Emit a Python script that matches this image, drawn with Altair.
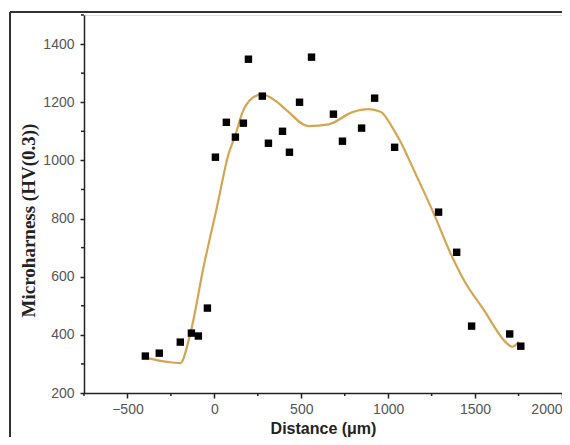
import altair as alt
import pandas as pd

# measured points
pt_x = [-397, -317, -196, -132, -92, -40, 6, 69, 121, 167, 196, 276, 311, 392, 432,
        490, 559, 685, 737, 847, 922, 1037, 1290, 1394, 1480, 1699, 1763]
pt_y = [327, 337, 375, 406, 396, 492, 1011, 1131, 1080, 1128, 1348, 1221, 1059, 1100, 1028,
        1200, 1355, 1159, 1066, 1111, 1214, 1045, 822, 684, 430, 403, 361]

# fitted curve
cv_x = [-386, -271, -196, -138, -62, 15, 82, 121, 159, 216, 274, 360, 420, 541, 657, 795, 887,
        956, 1033, 1071, 1148, 1263, 1359, 1436, 1551, 1685, 1714, 1752]
cv_y = [320, 307, 303, 405, 634, 840, 1023, 1087, 1161, 1213, 1227, 1201, 1170, 1118, 1124, 1166, 1176,
        1167, 1104, 1064, 966, 816, 680, 588, 485, 370, 359, 376]

x_major = [-500, 0, 500, 1000, 1500, 2000]
x_minor = [-750, -250, 250, 750, 1250, 1750]
y_major = [200, 400, 600, 800, 1000, 1200, 1400]
y_minor = [300, 500, 700, 900, 1100, 1300, 1500]

W, H = 478, 378

pts = pd.DataFrame({"x": pt_x, "y": pt_y})
curve = pd.DataFrame({"x": cv_x, "y": cv_y, "o": range(len(cv_x))})

xscale = alt.Scale(domain=[-750, 2000], nice=False, zero=False)
yscale = alt.Scale(domain=[200, 1500], nice=False, zero=False)

xaxis = alt.Axis(values=x_major, format="d", title="Distance (μm)", grid=False, tickSize=5,
                 tickColor="#222", domainColor="#222", domainWidth=1.5, tickWidth=1.5,
                 labelFont="Liberation Sans", labelFontSize=14, labelColor="#555",
                 labelPadding=4, titleFont="Liberation Sans", titleFontSize=16,
                 titleFontWeight="bold", titleColor="#222", titleY=35, titleBaseline="middle")
yaxis = alt.Axis(values=y_major, format="d", title="Microharness (HV(0.3))", grid=False, tickSize=4,
                 tickColor="#222", domainColor="#222", domainWidth=1.5, tickWidth=1.5,
                 labelFont="Liberation Sans", labelFontSize=14, labelColor="#555",
                 labelPadding=6, titleFont="Liberation Serif", titleFontSize=19,
                 titleFontWeight="bold", titleColor="#222", titleAngle=-90,
                 titleX=-56, titleY=205, titleBaseline="middle", titleAlign="center")

line = alt.Chart(curve).mark_line(color="#D4A552", strokeWidth=2.2, interpolate="monotone").encode(
    x=alt.X("x:Q", scale=xscale, axis=xaxis),
    y=alt.Y("y:Q", scale=yscale, axis=yaxis),
    order="o:Q",
)

points = alt.Chart(pts).mark_square(color="black", size=55, opacity=1).encode(
    x=alt.X("x:Q", scale=xscale),
    y=alt.Y("y:Q", scale=yscale),
)

xm = alt.Chart(pd.DataFrame({"x": x_minor})).mark_rule(color="#222", strokeWidth=1.5).encode(
    x=alt.X("x:Q", scale=xscale), y=alt.value(H), y2=alt.value(H + 3))
ym = alt.Chart(pd.DataFrame({"y": y_minor})).mark_rule(color="#222", strokeWidth=1.5).encode(
    y=alt.Y("y:Q", scale=yscale), x=alt.value(0), x2=alt.value(-3))

frame_top = alt.Chart(pd.DataFrame({"a": [0]})).mark_rule(color="#333", strokeWidth=2).encode(
    x=alt.value(-74), x2=alt.value(W + 10), y=alt.value(-3))
frame_left = alt.Chart(pd.DataFrame({"a": [0]})).mark_rule(color="#333", strokeWidth=2).encode(
    x=alt.value(-74), y=alt.value(-3), y2=alt.value(H + 60))

chart = alt.layer(frame_top, frame_left, xm, ym, line, points).properties(
    width=W, height=H,
    autosize=alt.AutoSizeParams(type="none"),
    padding={"left": 76, "top": 7, "right": 0, "bottom": 44},
).configure_view(stroke=None).configure(background="white")

chart.save("out.html", embed_options={"renderer": "svg", "actions": False})
